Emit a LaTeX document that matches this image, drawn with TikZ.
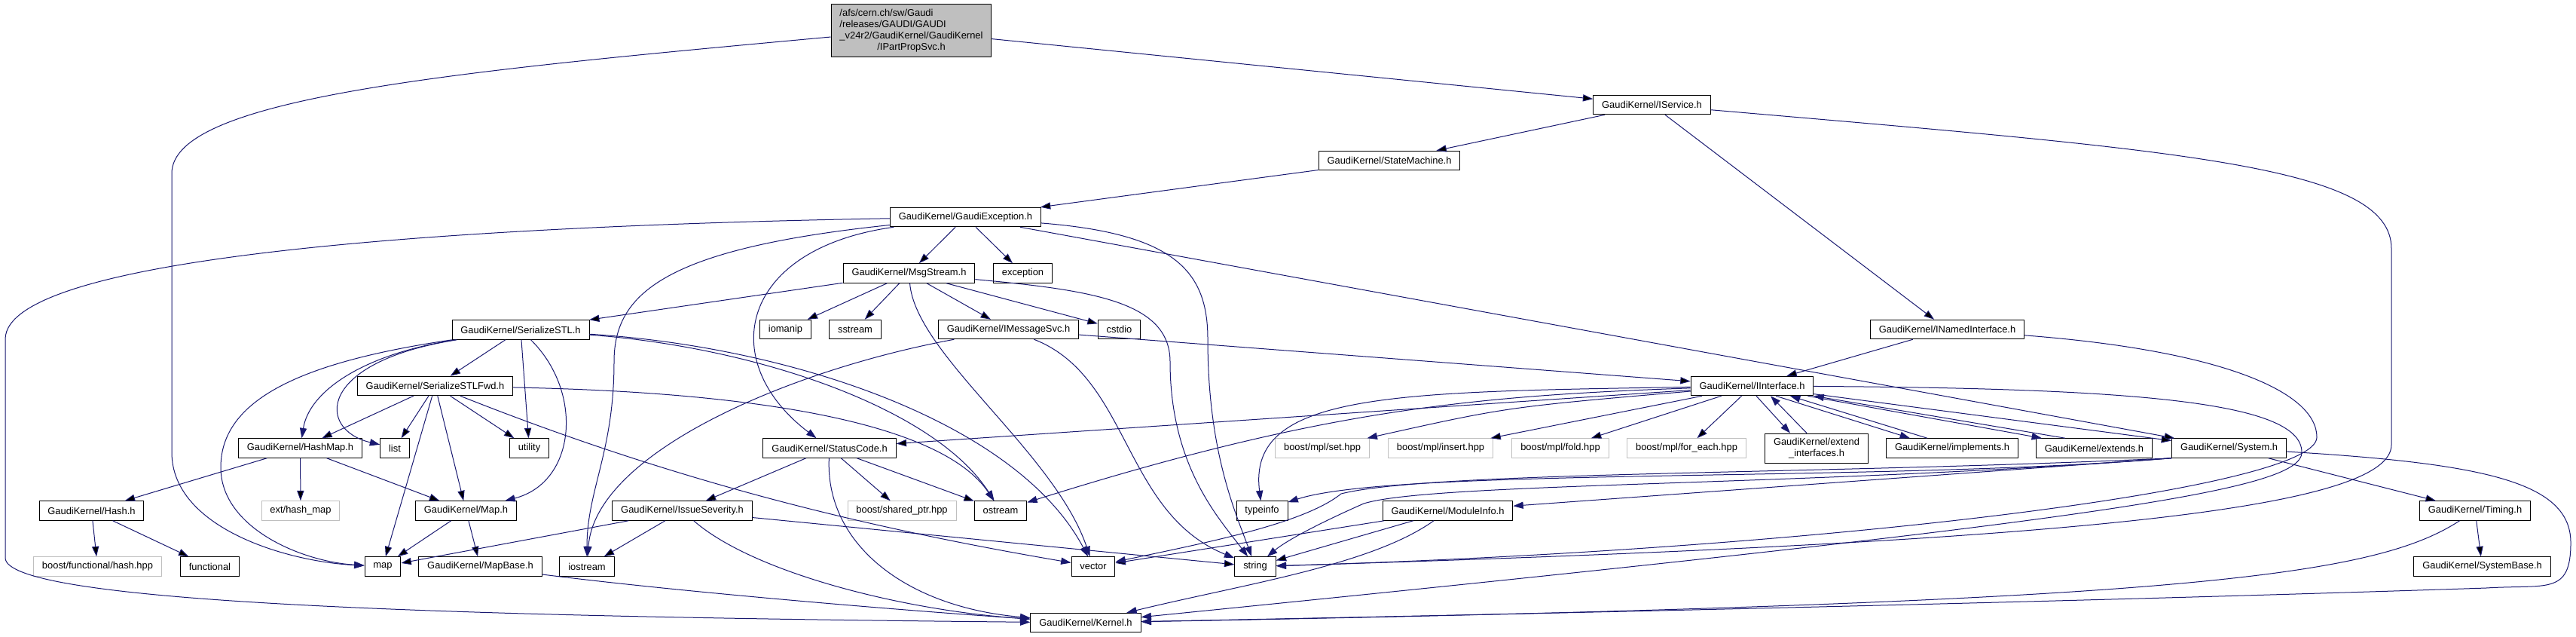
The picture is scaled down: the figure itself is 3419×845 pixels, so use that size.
\documentclass[tikz,border=0pt]{standalone}
\usepackage{fontspec}
\setmainfont{Liberation Sans}
\usetikzlibrary{arrows.meta}
\definecolor{depblue}{RGB}{25,25,112}
\definecolor{grey75}{RGB}{191,191,191}

\begin{document}
\begin{tikzpicture}[x=0.5pt, y=-0.5pt,
  file/.style={draw=black, fill=white, line width=0.5pt, inner xsep=5.7pt, inner ysep=0pt,
    minimum height=12.75pt, font=\fontsize{6.45}{7.4}\selectfont},
  extfile/.style={file, draw=grey75},
  mainfile/.style={file, fill=grey75, minimum height=35pt},
  dep/.style={draw=depblue, line width=0.5pt, -{Triangle[length=6.7pt, width=4.6pt]}}]
  \useasboundingbox (0,0) rectangle (3419,845);

  \node [mainfile] (IPartPropSvc) at (1209.5,41) {\begin{tabular}{@{}l@{}}/afs/cern.ch/sw/Gaudi\\/releases/GAUDI/GAUDI\\\_v24r2/GaudiKernel/GaudiKernel\\\multicolumn{1}{@{}c@{}}{/IPartPropSvc.h}\end{tabular}};
  \node [file] (IService) at (2192.5,139) {GaudiKernel/IService.h};
  \node [file] (StateMachine) at (1844,213) {GaudiKernel/StateMachine.h};
  \node [file] (GaudiException) at (1281.5,288) {GaudiKernel/GaudiException.h};
  \node [file] (MsgStream) at (1206.5,362.5) {GaudiKernel/MsgStream.h};
  \node [file] (exception) at (1357.5,362.5) {exception};
  \node [file] (iomanip) at (1042.5,437) {iomanip};
  \node [file] (sstream) at (1135,437) {sstream};
  \node [file] (IMessageSvc) at (1338.5,437) {GaudiKernel/IMessageSvc.h};
  \node [file] (cstdio) at (1485.5,437) {cstdio};
  \node [file] (INamedInterface) at (2584.5,437) {GaudiKernel/INamedInterface.h};
  \node [file] (SerializeSTL) at (691,437.5) {GaudiKernel/SerializeSTL.h};
  \node [file] (IInterface) at (2325.5,512) {GaudiKernel/IInterface.h};
  \node [file] (SerializeSTLFwd) at (577.5,512) {GaudiKernel/SerializeSTLFwd.h};
  \node [file] (HashMap) at (398.5,594.5) {GaudiKernel/HashMap.h};
  \node [file] (list) at (524,594.5) {list};
  \node [file] (utility) at (702.5,594.5) {utility};
  \node [file] (StatusCode) at (1101,594.5) {GaudiKernel/StatusCode.h};
  \node [extfile] (mpl_set) at (1755,594.5) {boost/mpl/set.hpp};
  \node [extfile] (mpl_insert) at (1912,594.5) {boost/mpl/insert.hpp};
  \node [extfile] (mpl_fold) at (2071,594.5) {boost/mpl/fold.hpp};
  \node [extfile] (mpl_for_each) at (2238.5,594.5) {boost/mpl/for\_each.hpp};
  \node [file, align=center, minimum height=19.5pt] (extend_interfaces) at (2411,594.5) {GaudiKernel/extend\\\_interfaces.h};
  \node [file] (implements) at (2591,594.5) {GaudiKernel/implements.h};
  \node [file] (extends) at (2779.5,594.5) {GaudiKernel/extends.h};
  \node [file] (System) at (2958.5,594.5) {GaudiKernel/System.h};
  \node [file] (Hash) at (121.5,677.5) {GaudiKernel/Hash.h};
  \node [extfile] (hash_map) at (399,677.5) {ext/hash\_map};
  \node [file] (Map) at (618.5,677.5) {GaudiKernel/Map.h};
  \node [file] (IssueSeverity) at (905.5,677.5) {GaudiKernel/IssueSeverity.h};
  \node [extfile] (shared_ptr) at (1197,677.5) {boost/shared\_ptr.hpp};
  \node [file] (ostream) at (1328,677.5) {ostream};
  \node [file] (typeinfo) at (1675,677.5) {typeinfo};
  \node [file] (ModuleInfo) at (1921.5,677.5) {GaudiKernel/ModuleInfo.h};
  \node [file] (Timing) at (3285,677.5) {GaudiKernel/Timing.h};
  \node [extfile] (functional_hash) at (129.5,751.5) {boost/functional/hash.hpp};
  \node [file] (functional) at (278.5,751.5) {functional};
  \node [file] (map) at (508,751.5) {map};
  \node [file] (MapBase) at (637.5,751.5) {GaudiKernel/MapBase.h};
  \node [file] (iostream) at (779,751.5) {iostream};
  \node [file] (vector) at (1451,751.5) {vector};
  \node [file] (string) at (1666,751.5) {string};
  \node [file] (SystemBase) at (3294.5,751.5) {GaudiKernel/SystemBase.h};
  \node [file] (Kernel) at (1441,826) {GaudiKernel/Kernel.h};

  \path[dep]
    (IPartPropSvc) edge (IService)
    (IService) edge (StateMachine)
    (IService) edge (INamedInterface)
    (StateMachine) edge (GaudiException)
    (GaudiException) edge (MsgStream)
    (GaudiException) edge (exception)
    (GaudiException) edge (System)
    (MsgStream) edge (SerializeSTL)
    (MsgStream) edge (iomanip)
    (MsgStream) edge (sstream)
    (MsgStream) edge (IMessageSvc)
    (MsgStream) edge (cstdio)
    (IMessageSvc) edge (IInterface)
    (INamedInterface) edge (IInterface)
    (SerializeSTL) edge (SerializeSTLFwd)
    (SerializeSTL) edge (utility)
    (SerializeSTLFwd) edge (HashMap)
    (SerializeSTLFwd) edge (list)
    (SerializeSTLFwd) edge (map)
    (SerializeSTLFwd) edge (Map)
    (SerializeSTLFwd) edge (utility)
    (HashMap) edge (Hash)
    (HashMap) edge (hash_map)
    (HashMap) edge (Map)
    (Hash) edge (functional_hash)
    (Hash) edge (functional)
    (Map) edge (map)
    (Map) edge (MapBase)
    (StatusCode) edge (IssueSeverity)
    (StatusCode) edge (shared_ptr)
    (StatusCode) edge (ostream)
    (IssueSeverity) edge (map)
    (IssueSeverity) edge (iostream)
    (IssueSeverity) edge (string)
    (IInterface) edge (StatusCode)
    (IInterface) edge (mpl_insert)
    (IInterface) edge (mpl_fold)
    (IInterface) edge (mpl_for_each)
    (IInterface) edge (System)
    (System) edge (Timing)
    (ModuleInfo) edge (vector)
    (ModuleInfo) edge (string)
    (Timing) edge (SystemBase);

  \draw[dep] ([yshift=-4pt]IPartPropSvc.west) .. controls (600,95) and (228,130) .. (228,230) -- (228,600) .. controls (228,700) and (380,745) .. (map);
  \draw[dep] (IService) .. controls (2900,200) and (3174,220) .. (3174,330) -- (3174,590) .. controls (3174,680) and (2700,720) .. (string);
  \draw[dep] (GaudiException) .. controls (600,300) and (7,340) .. (7,450) -- (7,740) .. controls (7,800) and (600,818) .. (Kernel);
  \draw[dep] (GaudiException) .. controls (980,330) and (950,480) .. (StatusCode);
  \draw[dep] (GaudiException) .. controls (880,330) and (815,390) .. (815,480) .. controls (815,600) and (779,650) .. (iostream);
  \draw[dep] (GaudiException) .. controls (1560,310) and (1603,360) .. (1603,450) .. controls (1603,600) and (1640,680) .. (string);
  \draw[dep] (MsgStream) .. controls (1215,470) and (1400,600) .. (vector);
  \draw[dep] (MsgStream) .. controls (1450,385) and (1553,400) .. (1553,480) .. controls (1553,620) and (1620,690) .. (string);
  \draw[dep] (IMessageSvc) .. controls (1050,490) and (790,600) .. (iostream);
  \draw[dep] (IMessageSvc) .. controls (1500,500) and (1490,680) .. (string);
  \draw[dep] (SerializeSTL) .. controls (480,470) and (410,520) .. (HashMap);
  \draw[dep] (SerializeSTL) .. controls (420,480) and (420,570) .. (list);
  \draw[dep] (SerializeSTL) .. controls (400,480) and (293,530) .. (293,620) .. controls (293,700) and (400,745) .. (map);
  \draw[dep] (SerializeSTL) .. controls (775,520) and (765,640) .. (Map);
  \draw[dep] (SerializeSTL) .. controls (1000,460) and (1240,540) .. (ostream);
  \draw[dep] (SerializeSTL) .. controls (1050,460) and (1350,560) .. (vector);
  \draw[dep] (SerializeSTLFwd) .. controls (1000,520) and (1250,560) .. (ostream);
  \draw[dep] (SerializeSTLFwd) .. controls (900,640) and (1150,700) .. (vector);
  \draw[dep] (MapBase) .. controls (900,785) and (1200,810) .. (Kernel);
  \draw[dep] (IssueSeverity) .. controls (1000,760) and (1200,810) .. (Kernel);
  \draw[dep] (StatusCode) .. controls (1095,720) and (1200,805) .. (Kernel);
  \draw[dep] (IInterface) .. controls (1950,525) and (1750,545) .. (ostream);
  \draw[dep] (IInterface) .. controls (1850,520) and (1655,520) .. (typeinfo);
  \draw[dep] (IInterface) .. controls (2000,540) .. (mpl_set);
  \draw[dep] ([xshift=2.75pt]IInterface.south) -- ([xshift=-17.5pt]extend_interfaces.north);
  \draw[dep] ([xshift=-6.5pt]extend_interfaces.north) -- ([xshift=12.25pt]IInterface.south);
  \draw[dep] ([xshift=15.75pt]IInterface.south) -- ([xshift=-28pt]implements.north);
  \draw[dep] ([xshift=-16.5pt]implements.north) -- ([xshift=25.25pt]IInterface.south);
  \draw[dep] ([xshift=-4pt]IInterface.south east) -- ([xshift=-34.75pt]extends.north);
  \draw[dep] ([xshift=-19.25pt]extends.north) -- (IInterface.south east);
  \draw[dep] (IInterface) .. controls (2850,515) and (3055,535) .. (3055,600) .. controls (3055,650) and (2800,690) .. (Kernel);
  \draw[dep] (INamedInterface) .. controls (2950,465) and (3075,520) .. (3075,580) .. controls (3075,650) and (2400,730) .. (string);
  \draw[dep] (System.south west) -- (ModuleInfo);
  \draw[dep] (System.south west) .. controls (2500,640) and (1850,620) .. (typeinfo);
  \draw[dep] (System.south west) .. controls (2400,630) and (1900,625) .. (1780,655) .. controls (1730,695) and (1600,720) .. (vector);
  \draw[dep] (System.south west) .. controls (2400,645) and (1900,640) .. (1810,668) .. controls (1760,690) and (1710,715) .. (string);
  \draw[dep] (System) .. controls (3300,615) and (3412,640) .. (3412,720) .. controls (3412,790) and (3380,775) .. (3300,780) .. controls (2700,800) and (2000,815) .. (Kernel);
  \draw[dep] (Timing) .. controls (3150,765) and (2900,800) .. (Kernel);
  \draw[dep] (ModuleInfo) .. controls (1820,750) and (1650,775) .. (Kernel);
\end{tikzpicture}
\end{document}
